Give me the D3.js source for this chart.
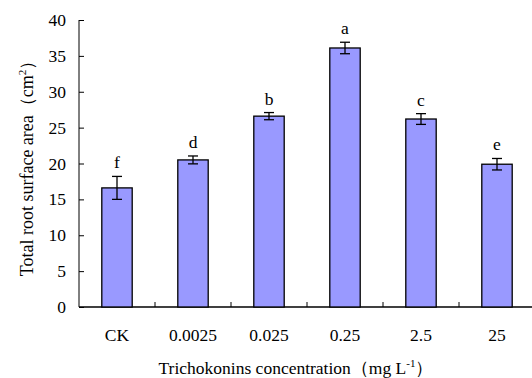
<!DOCTYPE html>
<html>
<head>
<meta charset="utf-8">
<script src="https://cdn.jsdelivr.net/npm/d3@7"></script>
<style>
  body { margin: 0; background: #fff; }
  text { font-family: "Liberation Serif", "Times New Roman", serif; fill: #000; }
</style>
</head>
<body>
<div class="chart"></div>
<script>
var svgWidth = 532;
var svgHeight = 378;

var margin = { top: 20, right: -3, bottom: 71, left: 79 };
var width = svgWidth - margin.left - margin.right;
var height = svgHeight - margin.top - margin.bottom;

// chart data
var categories = ["CK", "0.0025", "0.025", "0.25", "2.5", "25"];
var means = [16.6, 20.5, 26.6, 36.1, 26.2, 19.9];
var errors = [1.6, 0.55, 0.5, 0.8, 0.75, 0.8];
var letters = ["f", "d", "b", "a", "c", "e"];
var yTicks = [0, 5, 10, 15, 20, 25, 30, 35, 40];

var svg = d3.select(".chart")
  .append("svg")
  .attr("width", svgWidth)
  .attr("height", svgHeight);

var chartGroup = svg.append("g")
  .attr("transform", `translate(${margin.left}, ${margin.top})`);

var xScale = d3.scaleBand()
  .domain(categories)
  .range([0, width])
  .padding(0);

var yScale = d3.scaleLinear()
  .domain([0, 40])
  .range([height, 0]);

var barW = xScale.bandwidth() * 0.4;

// y axis with inward ticks
var yAxis = chartGroup.append("g")
  .call(d3.axisRight(yScale).tickValues(yTicks).tickSize(5).tickFormat(d3.format("d")));
yAxis.select(".domain").attr("d", `M0,0V${height}`).attr("stroke", "#000");
yAxis.selectAll(".tick line").attr("stroke", "#000");
yAxis.selectAll(".tick text")
  .attr("x", -13)
  .attr("text-anchor", "end")
  .attr("font-size", "17.5px");

// x axis: tick marks between categories
var xAxis = chartGroup.append("g")
  .attr("transform", `translate(0, ${height})`);
xAxis.append("line")
  .attr("x1", 0).attr("x2", width)
  .attr("stroke", "#000").attr("stroke-width", 1.3);
xAxis.selectAll(".sep")
  .data(categories.slice(1))
  .enter()
  .append("line")
  .attr("x1", d => xScale(d)).attr("x2", d => xScale(d))
  .attr("y1", 0).attr("y2", -5)
  .attr("stroke", "#000");
xAxis.selectAll(".lab")
  .data(categories)
  .enter()
  .append("text")
  .attr("x", d => xScale(d) + xScale.bandwidth() / 2)
  .attr("y", 34)
  .attr("text-anchor", "middle")
  .attr("font-size", "17.5px")
  .text(d => d);

// bars
var rows = categories.map((c, i) => ({ c: c, m: means[i], e: errors[i], l: letters[i] }));

chartGroup.selectAll(".bar")
  .data(rows)
  .enter()
  .append("rect")
  .attr("x", d => xScale(d.c) + (xScale.bandwidth() - barW) / 2)
  .attr("y", d => yScale(d.m))
  .attr("width", barW)
  .attr("height", d => height - yScale(d.m))
  .attr("fill", "#9999ff")
  .attr("stroke", "#000")
  .attr("stroke-width", 1.3);

// error bars
var eb = chartGroup.selectAll(".err")
  .data(rows)
  .enter()
  .append("g")
  .attr("transform", d => `translate(${xScale(d.c) + xScale.bandwidth() / 2}, 0)`)
  .attr("stroke", "#000")
  .attr("stroke-width", 1.3);
eb.append("line")
  .attr("y1", d => yScale(d.m - d.e)).attr("y2", d => yScale(d.m + d.e));
eb.append("line")
  .attr("x1", -5).attr("x2", 5)
  .attr("y1", d => yScale(d.m + d.e)).attr("y2", d => yScale(d.m + d.e));
eb.append("line")
  .attr("x1", -5).attr("x2", 5)
  .attr("y1", d => yScale(d.m - d.e)).attr("y2", d => yScale(d.m - d.e));

// significance letters
chartGroup.selectAll(".letter")
  .data(rows)
  .enter()
  .append("text")
  .attr("x", d => xScale(d.c) + xScale.bandwidth() / 2)
  .attr("y", d => yScale(d.m + d.e) - 8)
  .attr("text-anchor", "middle")
  .attr("font-size", "17.5px")
  .text(d => d.l);

// axis titles
var xt = svg.append("text")
  .attr("x", 296)
  .attr("y", 374)
  .attr("text-anchor", "middle")
  .attr("font-size", "17.5px");
xt.append("tspan").text("Trichokonins concentration（mg L");
xt.append("tspan").attr("dy", -7).attr("font-size", "11px").text("-1");
xt.append("tspan").attr("dy", 7).text("）");

var yt = svg.append("text")
  .attr("transform", "translate(33, 164) rotate(-90)")
  .attr("text-anchor", "middle")
  .attr("font-size", "18px");
yt.append("tspan").text("Total root surface area（cm");
yt.append("tspan").attr("dy", -7).attr("font-size", "11px").text("2");
yt.append("tspan").attr("dy", 7).text("）");
</script>
</body>
</html>
